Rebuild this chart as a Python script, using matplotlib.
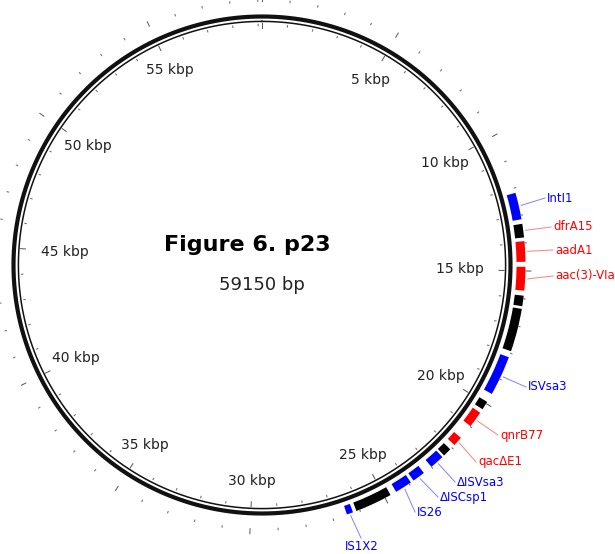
import numpy as np
import matplotlib.pyplot as plt

# plasmid p23, sizes in bp
genome_len = 59150
title = "Figure 6. p23"

# annotated features on the outer track
feat_start = [12175, 13309, 13933, 14853, 15888, 16365, 18155, 19930,
              20390, 21524, 22082, 22477, 23348, 23923, 24777, 26256]
feat_end = [13144, 13801, 14672, 15707, 16266, 17925, 19601, 20242,
            20982, 21869, 22394, 23003, 23808, 24547, 26124, 26486]
feat_kind = ['mobile', 'other', 'resist', 'resist', 'other', 'other', 'mobile', 'other',
             'resist', 'resist', 'other', 'mobile', 'mobile', 'mobile', 'other', 'mobile']

# gene labels: which feature they point at and their colour class
label_names = ['IntI1', 'dfrA15', 'aadA1', 'aac(3)-VIa', 'ISVsa3', 'qnrB77',
               'qacΔE1', 'ΔISVsa3', 'ΔISCsp1', 'IS26', 'IS1X2']
label_feat = [0, 1, 2, 3, 6, 8, 9, 11, 12, 13, 15]
label_kind = ['mobile', 'resist', 'resist', 'resist', 'mobile', 'resist',
              'resist', 'mobile', 'mobile', 'mobile', 'mobile']

# label placement in pixels (x, y from top-left)
label_xy = [(547, 198), (553, 227), (555, 250), (555, 276), (528, 387), (500, 435),
            (478, 462), (457, 482), (440, 497), (417, 512), (362, 546)]

colors = {'mobile': '#0000ff', 'resist': '#ff0000', 'other': '#000000'}
line_colors = {'mobile': '#8080ff', 'resist': '#ff8080', 'other': '#808080'}

W, H = 615, 554
cx, cy = 262, 265          # circle centre in pixels
rmax = 360

fig = plt.figure(figsize=(W / 100, H / 100), dpi=100)
ax = fig.add_axes([(cx - rmax) / W, (H - cy - rmax) / H, 2 * rmax / W, 2 * rmax / H],
                  projection='polar')
ax.set_theta_zero_location('N')
ax.set_theta_direction(-1)
ax.set_rlim(0, rmax)
ax.set_axis_off()


def bp2theta(bp):
    return 2 * np.pi * np.asarray(bp, dtype=float) / genome_len


# backbone: thick outer ring and thin inner ring
t = np.linspace(0, 2 * np.pi, 721)
ax.plot(t, np.full_like(t, 248.5), color='#111111', lw=3.0, solid_capstyle='butt')
ax.plot(t, np.full_like(t, 243.6), color='#111111', lw=1.1)

# ticks every kbp, longer every 5 kbp
for k in range(0, genome_len // 1000 + 1):
    th = bp2theta(k * 1000)
    if k % 5 == 0:
        ax.plot([th, th], [237, 242], color='#555555', lw=0.7)
        ax.plot([th, th], [264, 269], color='#555555', lw=0.7)
    else:
        ax.plot([th, th], [239.3, 240.7], color='#777777', lw=0.8)
        ax.plot([th, th], [263.8, 265.2], color='#777777', lw=0.8)

# kbp labels inside the ring: each text box sits just inside radius 222
renderer = fig.canvas.get_renderer()
for k in range(5, genome_len // 1000 + 1, 5):
    th = float(bp2theta(k * 1000))
    txt = ax.text(th, 200, f"{k} kbp", ha='center', va='center',
                  fontsize=10, color='#222222')
    bb = txt.get_window_extent(renderer)
    hw, hh = bb.width / 2, (bb.height - 2) / 2
    s, c = abs(np.sin(th)), abs(np.cos(th))
    reach = min(hw / s if s > 1e-6 else np.inf, hh / c if c > 1e-6 else np.inf)
    txt.set_position((th, 222 - reach))

# features
fs = np.array(feat_start)
fe = np.array(feat_end)
ax.bar(bp2theta((fs + fe) / 2), 9, width=bp2theta(fe - fs), bottom=254.5,
       color=[colors[k] for k in feat_kind], edgecolor='none', align='center')

# centre titles
fig.text(247 / W, 1 - 245 / H, title, ha='center', va='center',
         fontsize=16, fontweight='bold')
fig.text(262 / W, 1 - 285 / H, f"{genome_len} bp", ha='center', va='center',
         fontsize=13, color='#222222')

# gene labels with leader lines, on a pixel-space overlay
ov = fig.add_axes([0, 0, 1, 1])
ov.set_xlim(0, W)
ov.set_ylim(H, 0)
ov.set_axis_off()
for name, fi, kind, (lx, ly) in zip(label_names, label_feat, label_kind, label_xy):
    th = bp2theta((feat_start[fi] + feat_end[fi]) / 2)
    sx = cx + 266 * np.sin(th)
    sy = cy - 266 * np.cos(th)
    if name == 'IS1X2':
        ov.plot([sx, lx - 1], [sy, ly - 8], color=line_colors[kind], lw=0.7)
        ov.text(lx, ly, name, ha='center', va='center', fontsize=8.5, color=colors[kind])
    else:
        ov.plot([sx, lx - 2], [sy, ly], color=line_colors[kind], lw=0.7)
        ov.text(lx, ly, name, ha='left', va='center', fontsize=8.5, color=colors[kind])

fig.savefig('out.png', dpi=100)
